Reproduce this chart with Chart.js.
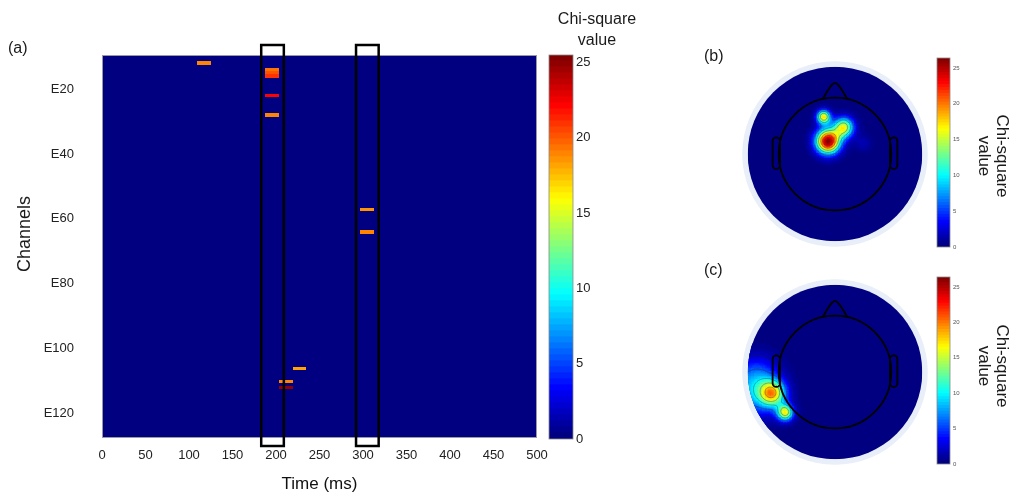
<!DOCTYPE html>
<html>
<head>
<meta charset="utf-8">
<script src="https://cdn.jsdelivr.net/npm/chart.js@4.4.1/dist/chart.umd.min.js"></script>
<style>
  body { margin: 0; background: #fff; width: 1012px; height: 497px; position: relative; overflow: hidden;
         font-family: "Liberation Sans", Arial, sans-serif; color: #1a1a1a; }
  canvas { position: absolute; }
  .lbl { position: absolute; white-space: nowrap; font-size: 16px; line-height: 18px; }
  .vert { position: absolute; text-align: center; white-space: nowrap; transform: translate(-50%, -50%) rotate(90deg);
          font-size: 17px; line-height: 18px; }
</style>
</head>
<body>
<canvas id="heat" width="1012" height="497" style="left:0;top:0"></canvas>
<canvas id="heatBar" width="80" height="497" style="left:540px;top:0"></canvas>
<canvas id="topoB" width="192" height="192" style="left:739px;top:58px"></canvas>
<canvas id="topoC" width="192" height="192" style="left:739px;top:276px"></canvas>
<canvas id="barB" width="40" height="205" style="left:930px;top:50px"></canvas>
<canvas id="barC" width="40" height="205" style="left:930px;top:269px"></canvas>

<div class="lbl" style="left:8px;top:39px">(a)</div>
<div class="lbl" style="left:704px;top:47px">(b)</div>
<div class="lbl" style="left:704px;top:261px">(c)</div>
<div class="lbl" style="left:597px;top:8px;transform:translateX(-50%);text-align:center;line-height:21px">Chi-square<br>value</div>
<div class="vert" style="left:24px;top:234px;transform:translate(-50%,-50%) rotate(-90deg);font-size:18px">Channels</div>
<div class="vert" style="left:993px;top:156px">Chi-square<br>value</div>
<div class="vert" style="left:993px;top:366px">Chi-square<br>value</div>

<script>
// significant time/channel bins (16 ms wide)
const binWidth = 16;
const cellStart   = [109, 187, 187, 187, 187, 187, 297, 297, 219, 203, 203];
const cellChannel = [12, 14, 15, 16, 22, 28, 57, 64, 106, 110, 112];
const cellValue   = [19, 19.5, 20, 21, 22, 19, 18.5, 19, 18, 19, 25];

// highlighted analysis windows (ms)
const windowStart = [183, 292];
const windowEnd   = [209, 318];

const timeTicks = [0, 50, 100, 150, 200, 250, 300, 350, 400, 450, 500];
const channelTicks = [20, 40, 60, 80, 100, 120];
const mainMax = 25.5;
const topoMax = 26.4;

// scalp map peaks: x, y (head units, nose up), peak value, spread
const peaksB = {
  x: [-0.13, -0.08, 0.10, 0.32],
  y: [0.43, 0.15, 0.31, 0.13],
  v: [17.5, 26.5, 16, 1.5],
  r: [0.055, 0.095, 0.08, 0.07]
};
const peaksC = {
  x: [-0.72, -0.57, -0.98, -0.86],
  y: [-0.24, -0.46, -0.22, -0.02],
  v: [16.5, 16, 7, 3],
  r: [0.105, 0.065, 0.21, 0.15]
};
const contourLevels = [2, 6, 10, 14, 18, 22];

const font = '"Liberation Sans", Arial, sans-serif';

function jet(t) {
  t = Math.max(0, Math.min(1, t));
  const c = x => Math.round(255 * Math.max(0, Math.min(1, x)));
  return `rgb(${c(1.5 - Math.abs(4 * t - 3))},${c(1.5 - Math.abs(4 * t - 2))},${c(1.5 - Math.abs(4 * t - 1))})`;
}
// 64-step jet like MATLAB
function jet64(v, max) {
  const idx = Math.max(0, Math.min(63, Math.floor(v / max * 64)));
  return jet(idx / 63);
}

const heatPlugin = {
  id: 'heatCells',
  beforeDatasetsDraw(chart) {
    const { ctx, chartArea: a, scales: { x, y } } = chart;
    ctx.save();
    ctx.fillStyle = jet64(0, mainMax);
    ctx.fillRect(a.left, a.top, a.width, a.height);
    cellChannel.forEach((ch, i) => {
      const x0 = Math.round(x.getPixelForValue(cellStart[i]));
      const x1 = Math.round(x.getPixelForValue(cellStart[i] + binWidth));
      const y0 = Math.round(y.getPixelForValue(ch - 0.5));
      const y1 = Math.round(y.getPixelForValue(ch + 0.5));
      ctx.fillStyle = jet64(cellValue[i], mainMax);
      ctx.fillRect(x0, Math.min(y0, y1), x1 - x0, Math.abs(y1 - y0));
    });
    ctx.strokeStyle = '#9a9aa6';
    ctx.lineWidth = 1;
    ctx.strokeRect(a.left + 0.5, a.top + 0.5, a.width - 1, a.height - 1);
    ctx.restore();
  },
  afterDatasetsDraw(chart) {
    const { ctx, chartArea: a, scales: { x } } = chart;
    ctx.save();
    ctx.strokeStyle = '#000';
    ctx.lineWidth = 2.5;
    windowStart.forEach((t, i) => {
      const x0 = x.getPixelForValue(t);
      const x1 = x.getPixelForValue(windowEnd[i]);
      ctx.strokeRect(x0, a.top - 10, x1 - x0, a.height + 18);
    });
    ctx.restore();
  }
};

new Chart(document.getElementById('heat'), {
  type: 'scatter',
  data: {
    datasets: [{
      data: cellChannel.map((ch, i) => ({ x: cellStart[i] + binWidth / 2, y: ch })),
      pointRadius: 0
    }]
  },
  options: {
    responsive: false,
    animation: false,
    layout: { padding: { left: 0, top: 55, right: 475, bottom: 0 } },
    plugins: { legend: { display: false }, tooltip: { enabled: false } },
    scales: {
      x: {
        type: 'linear', min: 0, max: 500,
        afterBuildTicks: s => { s.ticks = timeTicks.map(v => ({ value: v })); },
        ticks: { padding: 10, color: '#222', font: { family: font, size: 13 } },
        grid: { display: false, drawTicks: false },
        border: { display: false },
        title: { display: true, text: 'Time (ms)', color: '#111', font: { family: font, size: 17 }, padding: { top: 0, bottom: 2 } },
        afterFit: s => { s.height = 59; }
      },
      y: {
        type: 'linear', min: 9.5, max: 127.5, reverse: true,
        afterBuildTicks: s => { s.ticks = channelTicks.map(v => ({ value: v })); },
        ticks: { padding: 28, color: '#222', font: { family: font, size: 13 }, callback: v => 'E' + v },
        grid: { display: false, drawTicks: false },
        border: { display: false },
        afterFit: s => { s.width = 102; }
      }
    }
  },
  plugins: [heatPlugin]
});

// colour bar: 64 stacked bands
const outline = {
  id: 'outline',
  afterDatasetsDraw(chart) {
    const { ctx, chartArea: a } = chart;
    ctx.save();
    ctx.strokeStyle = '#8a8a8a';
    ctx.lineWidth = 0.8;
    ctx.strokeRect(a.left, a.top, a.width, a.height);
    ctx.restore();
  }
};

function colourBar(id, max, pad, axisWidth, tickFont, tickColour) {
  const bands = [];
  for (let i = 0; i < 64; i++) bands.push(i);
  new Chart(document.getElementById(id), {
    type: 'bar',
    data: {
      labels: [''],
      datasets: bands.map(i => ({
        data: [max / 64],
        backgroundColor: jet(i / 63),
        borderWidth: 0,
        inflateAmount: 0.6,
        barPercentage: 1,
        categoryPercentage: 1
      }))
    },
    options: {
      responsive: false,
      animation: false,
      layout: { padding: pad },
      plugins: { legend: { display: false }, tooltip: { enabled: false } },
      scales: {
        x: { display: false, stacked: true },
        y: {
          position: 'right', stacked: true, min: 0, max: max,
          ticks: { stepSize: 5, includeBounds: false, padding: 3, color: tickColour, font: { family: font, size: tickFont } },
          grid: { display: false, drawTicks: false },
          border: { display: false },
          afterFit: s => { s.width = axisWidth; }
        }
      }
    },
    plugins: [outline]
  });
}

colourBar('heatBar', mainMax, { left: 9, top: 55, bottom: 58, right: 0 }, 47, 13, '#222');
colourBar('barB', topoMax, { left: 7, top: 8, bottom: 8, right: 0 }, 20, 6, '#555');
colourBar('barC', topoMax, { left: 7, top: 8, bottom: 10, right: 0 }, 20, 6, '#555');

// scalp topography
function field(p, x, y) {
  let s = 0;
  for (let k = 0; k < p.v.length; k++) {
    const d2 = (x - p.x[k]) ** 2 + (y - p.y[k]) ** 2;
    s += p.v[k] * Math.exp(-d2 / (2 * p.r[k] * p.r[k]));
  }
  return s;
}

function topoPlugin(peaks) {
  return {
    id: 'topo',
    beforeDatasetsDraw(chart) {
      const { ctx, scales: { x, y } } = chart;
      const n = 110;
      const cx = x.getPixelForValue(0), cy = y.getPixelForValue(0);
      const unit = x.getPixelForValue(1) - cx;
      const px = [], py = [], g = [];
      for (let i = 0; i <= n; i++) {
        px.push(x.getPixelForValue(-1 + 2 * i / n));
        py.push(y.getPixelForValue(-1 + 2 * i / n));
      }
      for (let i = 0; i <= n; i++) {
        g.push([]);
        for (let j = 0; j <= n; j++) g[i].push(field(peaks, -1 + 2 * i / n, -1 + 2 * j / n));
      }
      ctx.save();
      // pale rim
      ctx.fillStyle = '#e8eff9';
      ctx.beginPath(); ctx.arc(cx, cy, unit * 1.063, 0, Math.PI * 2); ctx.fill();
      ctx.beginPath(); ctx.arc(cx, cy, unit, 0, Math.PI * 2); ctx.clip();
      ctx.fillStyle = jet64(0, topoMax);
      ctx.fillRect(cx - unit, cy - unit, unit * 2, unit * 2);
      for (let i = 0; i < n; i++) {
        for (let j = 0; j < n; j++) {
          const v = (g[i][j] + g[i + 1][j] + g[i + 1][j + 1] + g[i][j + 1]) / 4;
          if (v < topoMax / 64) continue;
          ctx.fillStyle = jet64(v, topoMax);
          ctx.fillRect(px[i], py[j + 1], px[i + 1] - px[i] + 0.6, py[j] - py[j + 1] + 0.6);
        }
      }
      // contour lines (marching squares)
      ctx.strokeStyle = 'rgba(30,30,40,0.55)';
      ctx.lineWidth = 0.6;
      ctx.beginPath();
      for (const L of contourLevels) {
        for (let i = 0; i < n; i++) {
          for (let j = 0; j < n; j++) {
            const v = [g[i][j], g[i + 1][j], g[i + 1][j + 1], g[i][j + 1]];
            const c = [[i, j], [i + 1, j], [i + 1, j + 1], [i, j + 1]];
            const pts = [];
            for (let k = 0; k < 4; k++) {
              const a = v[k], b = v[(k + 1) % 4];
              if ((a < L) !== (b < L)) {
                const t = (L - a) / (b - a);
                const pa = c[k], pb = c[(k + 1) % 4];
                const fi = pa[0] + t * (pb[0] - pa[0]);
                const fj = pa[1] + t * (pb[1] - pa[1]);
                const i0 = Math.min(Math.floor(fi), n - 1), j0 = Math.min(Math.floor(fj), n - 1);
                pts.push([px[i0] + (fi - i0) * (px[i0 + 1] - px[i0]), py[j0] + (fj - j0) * (py[j0 + 1] - py[j0])]);
              }
            }
            for (let k = 0; k + 1 < pts.length; k += 2) {
              ctx.moveTo(pts[k][0], pts[k][1]);
              ctx.lineTo(pts[k + 1][0], pts[k + 1][1]);
            }
          }
        }
      }
      ctx.stroke();
      ctx.restore();

      // head, nose and ears
      const P = (a, b) => [x.getPixelForValue(a), y.getPixelForValue(b)];
      ctx.save();
      ctx.strokeStyle = '#000';
      ctx.lineWidth = 1.8;
      ctx.lineJoin = 'round';
      ctx.beginPath(); ctx.arc(cx, cy, unit * 0.645, 0, Math.PI * 2); ctx.stroke();
      ctx.beginPath();
      ctx.moveTo(...P(-0.14, 0.63));
      ctx.quadraticCurveTo(...P(-0.03, 0.83), ...P(0, 0.81));
      ctx.quadraticCurveTo(...P(0.03, 0.83), ...P(0.14, 0.63));
      ctx.stroke();
      [-1, 1].forEach(sd => {
        const [ex0, ey0] = P(sd < 0 ? -0.715 : 0.63, 0.19);
        const [ex1, ey1] = P(sd < 0 ? -0.63 : 0.715, -0.17);
        ctx.beginPath();
        ctx.roundRect(ex0, ey0, ex1 - ex0, ey1 - ey0, 4);
        ctx.stroke();
      });
      ctx.restore();
    }
  };
}

function topoChart(id, peaks) {
  new Chart(document.getElementById(id), {
    type: 'scatter',
    data: { datasets: [{ data: peaks.x.map((v, k) => ({ x: v, y: peaks.y[k] })), pointRadius: 0 }] },
    options: {
      responsive: false,
      animation: false,
      layout: { padding: 0 },
      plugins: { legend: { display: false }, tooltip: { enabled: false } },
      scales: {
        x: { type: 'linear', min: -1.1, max: 1.1, display: false },
        y: { type: 'linear', min: -1.1, max: 1.1, display: false }
      }
    },
    plugins: [topoPlugin(peaks)]
  });
}

topoChart('topoB', peaksB);
topoChart('topoC', peaksC);
</script>
</body>
</html>
